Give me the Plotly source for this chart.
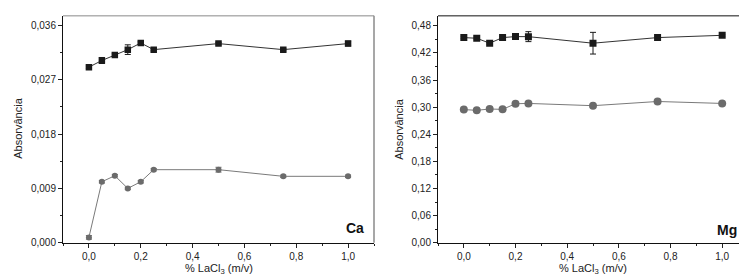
import plotly.graph_objects as go

x_lacl3 = [0.0, 0.05, 0.10, 0.15, 0.20, 0.25, 0.50, 0.75, 1.00]

ca_top = [0.0291, 0.0302, 0.0311, 0.0320, 0.0331, 0.0320, 0.0330, 0.0320, 0.0330]
ca_top_err = [0.0002, 0.0005, 0.0002, 0.0008, 0.0002, 0.0002, 0.0002, 0.0002, 0.0004]
ca_bottom = [0.00088, 0.0101, 0.0111, 0.0090, 0.0101, 0.0121, 0.0121, 0.0110, 0.0110]
ca_bottom_err = [0.0003, 0.0002, 0.0002, 0.0002, 0.0002, 0.0002, 0.0004, 0.0002, 0.0002]

mg_top = [0.4539, 0.4524, 0.4415, 0.4539, 0.4561, 0.4560, 0.4415, 0.4539, 0.4589]
mg_top_err = [0.002, 0.002, 0.002, 0.002, 0.002, 0.011, 0.024, 0.002, 0.002]
mg_bottom = [0.2945, 0.2930, 0.2958, 0.2951, 0.3075, 0.3082, 0.3032, 0.3125, 0.3082]

x_ticks = [0.0, 0.2, 0.4, 0.6, 0.8, 1.0]
ca_yticks = [0.000, 0.009, 0.018, 0.027, 0.036]
mg_yticks = [0.00, 0.06, 0.12, 0.18, 0.24, 0.30, 0.36, 0.42, 0.48]

BLACK = "#1a1a1a"
GRAY = "#6b6b6b"
FONT = "Liberation Sans, Arial, sans-serif"

fig = go.Figure()

def err(vals, color):
    return dict(type="data", array=vals, visible=True, color=color, thickness=1, width=3)

# Ca panel
fig.add_trace(go.Scatter(x=x_lacl3, y=ca_top, mode="lines+markers", xaxis="x", yaxis="y",
                         line=dict(color="#333333", width=1),
                         marker=dict(symbol="square", size=6.5, color=BLACK),
                         error_y=err(ca_top_err, BLACK), showlegend=False))
fig.add_trace(go.Scatter(x=x_lacl3, y=ca_bottom, mode="lines+markers", xaxis="x", yaxis="y",
                         line=dict(color="#7a7a7a", width=1),
                         marker=dict(symbol="circle", size=6, color=GRAY),
                         error_y=err(ca_bottom_err, GRAY), showlegend=False))
# Mg panel
fig.add_trace(go.Scatter(x=x_lacl3, y=mg_top, mode="lines+markers", xaxis="x2", yaxis="y2",
                         line=dict(color="#333333", width=1),
                         marker=dict(symbol="square", size=7, color=BLACK),
                         error_y=err(mg_top_err, BLACK), showlegend=False))
fig.add_trace(go.Scatter(x=x_lacl3, y=mg_bottom, mode="lines+markers", xaxis="x2", yaxis="y2",
                         line=dict(color="#7a7a7a", width=1),
                         marker=dict(symbol="circle", size=8, color=GRAY),
                         showlegend=False))

W, H = 747, 277
ydom = [(H - 239) / H, (H - 8) / H]
xdom1 = [55 / W, 366 / W]
xdom2 = [430 / W, 740 / W]

tickfont = dict(family=FONT, size=10, color="#222222")

def xaxis(domain, anchor):
    return dict(domain=domain, anchor=anchor, range=[-0.1, 1.1], tickvals=x_ticks,
                tickformat=".1f", ticks="outside", ticklen=4, tickcolor="#222",
                showline=True, linecolor="#111", linewidth=1, showgrid=False, zeroline=False,
                tickfont=tickfont,
                minor=dict(ticks="outside", ticklen=2, dtick=0.1, tick0=0, tickcolor="#222"))

def yaxis(domain, anchor, rng, ticks, fmt, mdt):
    return dict(domain=domain, anchor=anchor, range=rng, tickvals=ticks, tickformat=fmt,
                ticks="outside", ticklen=4, tickcolor="#222",
                showline=True, linecolor="#111", linewidth=1, showgrid=False, zeroline=False,
                tickfont=tickfont,
                minor=dict(ticks="outside", ticklen=2, dtick=mdt, tick0=0, tickcolor="#222"))

fig.update_layout(
    width=W, height=H,
    margin=dict(l=0, r=0, t=0, b=0),
    paper_bgcolor="white", plot_bgcolor="white",
    separators=",.",
    xaxis=xaxis(xdom1, "y"),
    yaxis=yaxis(ydom, "x", [0, 0.0376], ca_yticks, ".3f", 0.0045),
    xaxis2=xaxis(xdom2, "y2"),
    yaxis2=yaxis(ydom, "x2", [0, 0.502], mg_yticks, ".2f", 0.03),
)

# frame top/right
shapes = []
for (xd, topcol) in [(xdom1, "#8a8a8a"), (xdom2, "#111111")]:
    shapes.append(dict(type="line", xref="paper", yref="paper", x0=xd[0], x1=xd[1],
                       y0=ydom[1], y1=ydom[1], line=dict(color=topcol, width=1)))
    shapes.append(dict(type="line", xref="paper", yref="paper", x0=xd[1], x1=xd[1],
                       y0=ydom[0], y1=ydom[1], line=dict(color="#8a8a8a", width=1.5)))
fig.update_layout(shapes=shapes)

lab = dict(family=FONT, size=11, color="#222222")
annotations = [
    dict(text="Absorvância", x=10 / W, y=(H - 123) / H, xref="paper", yref="paper",
         textangle=-90, showarrow=False, font=lab, xanchor="center", yanchor="middle"),
    dict(text="Absorvância", x=391 / W, y=(H - 123) / H, xref="paper", yref="paper",
         textangle=-90, showarrow=False, font=lab, xanchor="center", yanchor="middle"),
    dict(text="% LaCl<sub>3</sub> (m/v)", x=211 / W, y=(H - 266) / H, xref="paper", yref="paper",
         showarrow=False, font=lab, xanchor="center", yanchor="middle"),
    dict(text="% LaCl<sub>3</sub> (m/v)", x=585 / W, y=(H - 266) / H, xref="paper", yref="paper",
         showarrow=False, font=lab, xanchor="center", yanchor="middle"),
    dict(text="<b>Ca</b>", x=347 / W, y=(H - 224) / H, xref="paper", yref="paper",
         showarrow=False, font=dict(family=FONT, size=14, color="#111"), xanchor="center", yanchor="middle"),
    dict(text="<b>Mg</b>", x=719 / W, y=(H - 226) / H, xref="paper", yref="paper",
         showarrow=False, font=dict(family=FONT, size=14, color="#111"), xanchor="center", yanchor="middle"),
]
fig.update_layout(annotations=annotations)

fig.write_html("out.html")
